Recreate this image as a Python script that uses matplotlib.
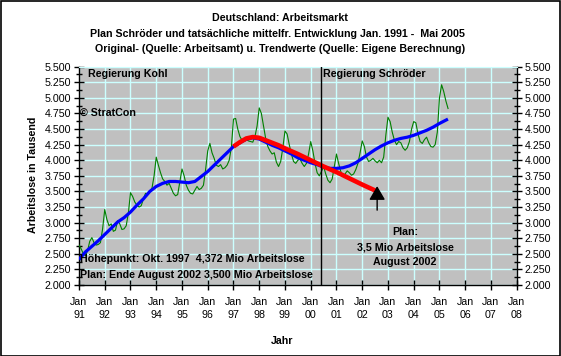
import matplotlib
matplotlib.use("Agg")
import matplotlib.pyplot as plt
from matplotlib.ticker import MultipleLocator, FixedLocator
import numpy as np

plt.rcParams['font.family'] = ['Liberation Sans', 'DejaVu Sans']

# ---- data ----
years_start = 1991
actual_1991 = [2.64, 2.58, 2.50, 2.47, 2.55, 2.70, 2.76, 2.68, 2.64, 2.65, 2.68, 2.90]
actual_1992 = [3.21, 3.05, 2.95, 2.98, 2.86, 2.88, 3.03, 2.98, 2.89, 2.90, 2.95, 3.15]
actual_1993 = [3.48, 3.42, 3.33, 3.28, 3.25, 3.27, 3.38, 3.47, 3.46, 3.50, 3.55, 3.75]
actual_1994 = [4.05, 3.92, 3.80, 3.70, 3.66, 3.60, 3.63, 3.55, 3.47, 3.43, 3.45, 3.65]
actual_1995 = [3.86, 3.75, 3.60, 3.52, 3.47, 3.46, 3.52, 3.58, 3.53, 3.55, 3.60, 3.85]
actual_1996 = [4.15, 4.27, 4.12, 4.03, 3.92, 3.90, 3.93, 3.86, 3.88, 3.92, 4.00, 4.20]
actual_1997 = [4.66, 4.67, 4.50, 4.38, 4.32, 4.30, 4.33, 4.31, 4.30, 4.29, 4.38, 4.55]
actual_1998 = [4.84, 4.75, 4.55, 4.35, 4.22, 4.15, 4.10, 4.12, 3.97, 3.90, 3.98, 4.20]
actual_1999 = [4.47, 4.42, 4.25, 4.10, 3.98, 3.95, 4.00, 4.02, 3.95, 3.90, 3.95, 4.10]
actual_2000 = [4.30, 4.15, 3.95, 3.80, 3.75, 3.82, 3.90, 3.78, 3.68, 3.64, 3.70, 3.90]
actual_2001 = [4.10, 3.95, 3.82, 3.74, 3.78, 3.83, 3.80, 3.76, 3.78, 3.85, 3.95, 4.12]
actual_2002 = [4.31, 4.22, 4.05, 3.98, 4.00, 4.03, 3.99, 3.96, 4.00, 3.96, 4.05, 4.40]
actual_2003 = [4.69, 4.62, 4.45, 4.32, 4.25, 4.30, 4.28, 4.20, 4.16, 4.20, 4.30, 4.50]
actual_2004 = [4.62, 4.60, 4.42, 4.30, 4.27, 4.33, 4.37, 4.28, 4.22, 4.21, 4.25, 4.45]
actual_2005 = [5.00, 5.21, 5.10, 4.95, 4.83]

trend_t = [1991.0, 1991.25, 1991.5, 1991.75, 1992.0, 1992.25, 1992.5, 1992.75,
           1993.0, 1993.25, 1993.5, 1993.75, 1994.0, 1994.25, 1994.5, 1994.75,
           1995.0, 1995.25, 1995.5, 1995.75, 1996.0, 1996.25, 1996.5, 1996.75,
           1997.0, 1997.25, 1997.5, 1997.75, 1998.0, 1998.25, 1998.5, 1998.75,
           1999.0, 1999.25, 1999.5, 1999.75, 2000.0, 2000.25, 2000.5, 2000.75,
           2001.0, 2001.25, 2001.5, 2001.75, 2002.0, 2002.25, 2002.5, 2002.75,
           2003.0, 2003.25, 2003.5, 2003.75, 2004.0, 2004.25, 2004.5, 2004.75,
           2005.0, 2005.33]
trend_v = [2.41, 2.53, 2.62, 2.71, 2.81, 2.91, 3.01, 3.08,
           3.17, 3.28, 3.38, 3.50, 3.58, 3.63, 3.66, 3.66,
           3.65, 3.64, 3.66, 3.74, 3.82, 3.92, 4.02, 4.12,
           4.22, 4.28, 4.34, 4.36, 4.34, 4.29, 4.24, 4.20,
           4.15, 4.10, 4.04, 4.00, 3.96, 3.93, 3.89, 3.87,
           3.87, 3.88, 3.91, 3.96, 4.03, 4.10, 4.17, 4.23,
           4.28, 4.32, 4.35, 4.37, 4.40, 4.44, 4.48, 4.53,
           4.59, 4.66]

plan_t = [1997.0, 1997.25, 1997.5, 1997.75, 1998.0, 1998.25, 1998.5, 1998.75,
          1999.0, 1999.5, 2000.0, 2000.5, 2001.0, 2001.5, 2002.0, 2002.58]
plan_v = [4.22, 4.29, 4.35, 4.372, 4.36, 4.32, 4.28, 4.24,
          4.19, 4.10, 4.00, 3.90, 3.81, 3.71, 3.61, 3.50]

xtick_years = list(range(1991, 2009))
xtick_labels = ["Jan\n%02d" % (y % 100) for y in xtick_years]
ytick_vals = [2.0, 2.25, 2.5, 2.75, 3.0, 3.25, 3.5, 3.75, 4.0, 4.25, 4.5, 4.75, 5.0, 5.25, 5.5]
ytick_labels = ["%.3f" % v for v in ytick_vals]

actual_v = (actual_1991 + actual_1992 + actual_1993 + actual_1994 + actual_1995 +
            actual_1996 + actual_1997 + actual_1998 + actual_1999 + actual_2000 +
            actual_2001 + actual_2002 + actual_2003 + actual_2004 + actual_2005)
actual_t = [years_start + i / 12.0 for i in range(len(actual_v))]

# ---- figure ----
W, H = 561, 356
fig = plt.figure(figsize=(W / 100, H / 100), dpi=100)
fig.patch.set_facecolor('white')
fig.patches.append(matplotlib.patches.Rectangle((0.5 / W, 0.5 / H), 1 - 1.5 / W, 1 - 1.5 / H,
                                                transform=fig.transFigure, fill=False,
                                                edgecolor='black', lw=1.2))

left, right, top, bottom = 79, 516.7, 66.7, 285
ax = fig.add_axes([left / W, 1 - bottom / H, (right - left) / W, (bottom - top) / H])
ax.set_facecolor('#C0C0C0')
ax.set_xlim(1991, 2008)
ax.set_ylim(2.0, 5.5)

gridc = '#CCFFFF'
ax.xaxis.set_major_locator(FixedLocator(xtick_years))
ax.set_xticklabels(xtick_labels)
ax.yaxis.set_major_locator(FixedLocator(ytick_vals))
ax.set_yticklabels(ytick_labels)
ax.yaxis.set_minor_locator(MultipleLocator(0.125))
ax.grid(True, which='major', color=gridc, lw=1)
ax.set_axisbelow(True)

for s in ['left', 'right', 'bottom']:
    ax.spines[s].set_color('black')
    ax.spines[s].set_linewidth(1)
ax.spines['top'].set_color(gridc)

fs = 7.7
ax.tick_params(axis='x', which='major', direction='inout', length=7, width=1,
               labelsize=fs, pad=5)
ax.tick_params(axis='y', which='major', direction='inout', length=7, width=1,
               labelsize=fs, left=True, right=True, labelleft=True, labelright=True, pad=2)
ax.tick_params(axis='y', which='minor', direction='inout', length=4, width=1,
               left=True, right=True)
for lab in ax.get_xticklabels():
    lab.set_linespacing(1.35)

ax.plot(actual_t, actual_v, color='#008000', lw=0.8, zorder=3)
ax.plot(trend_t, trend_v, color='#0000FF', lw=2.3, zorder=4, solid_capstyle='butt')
ax.plot(plan_t, plan_v, color='#FF0000', lw=3.3, zorder=5, solid_capstyle='butt')

ax.axvline(2000.38, color='black', lw=1, zorder=6)

ax.annotate('', xy=(2002.58, 3.585), xytext=(2002.58, 3.2),
            arrowprops=dict(arrowstyle='-|>,head_length=0.6,head_width=0.35',
                            color='black', lw=1, mutation_scale=14, shrinkA=0, shrinkB=0),
            zorder=7)

bold = dict(fontweight='bold', fontsize=fs, color='black')
fig.text(280 / W, 1 - 18 / H, "Deutschland: Arbeitsmarkt", ha='center', va='center', **bold)
fig.text(277 / W, 1 - 34 / H, "Plan Schröder und tatsächliche mittelfr. Entwicklung Jan. 1991 -  Mai 2005",
         ha='center', va='center', **bold)
fig.text(280 / W, 1 - 49 / H, "Original- (Quelle: Arbeitsamt) u. Trendwerte (Quelle: Eigene Berechnung)",
         ha='center', va='center', **bold)
fig.text(33 / W, 1 - 175 / H, "Arbeitslose in Tausend", ha='center', va='center', rotation=90, **bold)
fig.text(282 / W, 1 - 341 / H, "Jahr", ha='center', va='center', **bold)

def ptext(x, y, s, ha='left'):
    fig.text(x / W, 1 - y / H, s, ha=ha, va='center', zorder=10, **bold)

ptext(88, 74, "Regierung Kohl")
ptext(80, 113, "© StratCon")
ptext(323, 74, "Regierung Schröder")
ptext(80, 259, "Höhepunkt: Okt. 1997  4,372 Mio Arbeitslose")
ptext(80, 275, "Plan: Ende August 2002 3,500 Mio Arbeitslose")
ptext(405, 232, "Plan:", ha='center')
ptext(405, 247, "3,5 Mio Arbeitslose", ha='center')
ptext(405, 262, "August 2002", ha='center')

fig.savefig('out.png', dpi=100)
